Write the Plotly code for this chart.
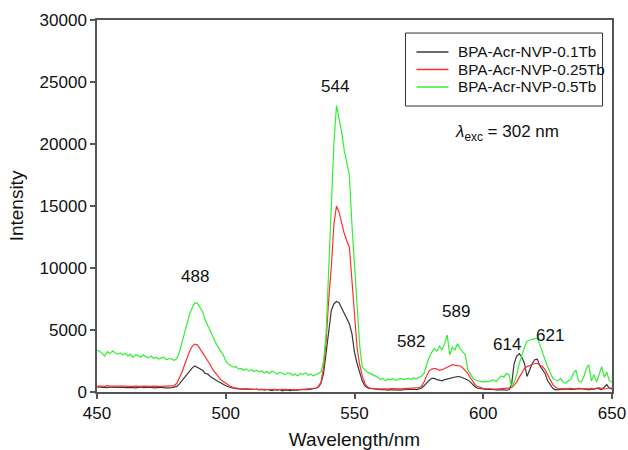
import numpy as np
import plotly.graph_objects as go

# Emission wavelength grid, 1 nm steps
wavelength = list(range(450, 651))

# BPA-Acr-NVP-0.1Tb
tb_01 = [
    420, 400, 380, 420, 350, 400, 380, 360, 400, 370,
    390, 350, 380, 400, 360, 340, 380, 400, 350, 380,
    360, 390, 340, 370, 350, 380, 330, 360, 340, 350,
    380, 450, 650, 900, 1200, 1450, 1700, 1950, 2100, 2000,
    1850, 1750, 1500, 1450, 1250, 1100, 1000, 850, 750, 600,
    500, 420, 350, 300, 280, 250, 260, 230, 250, 220,
    240, 200, 230, 180, 210, 150, 200, 170, 120, 180,
    140, 180, 100, 160, 130, 110, 170, 140, 150, 180,
    160, 200, 180, 220, 250, 300, 400, 700, 1500, 3200,
    5000, 6600, 7100, 7300, 7200, 6800, 6400, 6000, 5500, 4700,
    3200, 2300, 1500, 900, 500, 350, 280, 250, 220, 200,
    180, 200, 170, 150, 180, 160, 140, 170, 150, 180,
    200, 170, 180, 220, 200, 250, 300, 500, 750, 950,
    1100, 1100, 1000, 950, 900, 1000, 1050, 1100, 1150, 1200,
    1250, 1230, 1150, 1050, 970, 800, 550, 380, 300, 250,
    230, 200, 220, 180, 200, 170, 190, 160, 180, 150,
    180, 600, 2300, 2900, 3100, 2800, 2300, 1250, 1800, 2300,
    2600, 2650, 2100, 1800, 1500, 900, 550, 300, 180, 200,
    220, 180, 200, 250, 200, 180, 220, 300, 250, 200,
    200, 180, 250, 220, 300, 250, 200, 400, 600, 300,
    250,
]

# BPA-Acr-NVP-0.25Tb
tb_025 = [
    480, 500, 470, 460, 510, 470, 480, 450, 470, 490,
    460, 470, 450, 480, 460, 470, 440, 460, 470, 450,
    460, 450, 470, 440, 460, 450, 470, 450, 460, 480,
    520, 700, 1100, 1600, 2200, 2800, 3300, 3700, 3850, 3800,
    3500, 3200, 2900, 2500, 2200, 1800, 1500, 1250, 1000, 850,
    700, 550, 430, 350, 300, 270, 250, 230, 240, 220,
    230, 210, 220, 200, 220, 210, 200, 220, 190, 210,
    200, 220, 190, 210, 200, 190, 210, 200, 220, 210,
    220, 230, 240, 250, 280, 320, 450, 800, 2000, 4200,
    7500, 10100, 13500, 15000, 14500, 13500, 12800, 12200, 11700, 9000,
    6200, 3600, 2200, 1300, 700, 420, 320, 280, 260, 250,
    260, 280, 250, 260, 270, 250, 280, 260, 250, 270,
    280, 260, 300, 280, 320, 350, 450, 800, 1300, 1700,
    1850, 1900, 1850, 1750, 1800, 1900, 2050, 2150, 2200, 2150,
    2100, 2100, 1950, 1700, 1500, 1150, 800, 550, 430, 350,
    300, 280, 250, 260, 240, 230, 250, 230, 240, 250,
    270, 350, 550, 800, 1200, 1600, 1900, 2050, 2150, 2250,
    2300, 2300, 2200, 2050, 1800, 1400, 970, 600, 400, 280,
    250, 270, 230, 260, 300, 250, 280, 230, 260, 300,
    280, 250, 300, 260, 280, 350, 300, 250, 280, 350,
    300,
]

# BPA-Acr-NVP-0.5Tb
tb_05 = [
    3350, 3300, 3100, 2900, 3250, 3100, 3300, 3200, 3050, 3150,
    3000, 3100, 2900, 3050, 2800, 3000, 2950, 2800, 3000, 2850,
    2750, 2900, 2700, 2800, 2650, 2750, 2800, 2600, 2700, 2650,
    2550, 2700, 3200, 4000, 4800, 5600, 6300, 6800, 7200, 7150,
    6800, 6500, 5800, 5400, 5000, 4500, 4000, 3600, 3300, 3000,
    2500, 2250, 2100, 2000, 2050, 1850, 1900, 1750, 1850, 1700,
    1800, 1650, 1750, 1600, 1700, 1550, 1650, 1500, 1700, 1550,
    1450, 1600, 1500, 1400, 1550, 1500, 1350, 1450, 1300, 1500,
    1400, 1550, 1350, 1450, 1300, 1400, 1500, 1600, 2500, 4800,
    10000, 15700, 20000, 23100, 22000, 21000, 19500, 18500, 17500, 13500,
    10100, 6500, 3800, 2000, 1800, 1600, 1500, 1400, 1300, 1200,
    1000, 1100, 900, 1050, 1000, 1100, 950, 1050, 1100, 1000,
    1050, 1100, 1000, 1150, 1050, 1200, 1250, 1500, 2200, 2800,
    3200, 3500, 3300, 3700, 3400, 3900, 4600, 3000, 3600, 3400,
    3900, 3500, 3250, 3000, 1800, 1400, 1100, 970, 900, 850,
    800, 850, 830, 900, 1000, 850, 1100, 1300, 1200, 1500,
    1400, 430, 800, 1400, 2300, 3000, 3600, 4100, 4200, 4250,
    4300, 4330, 3800, 3120, 2600, 2040, 1500, 1100, 970, 900,
    1100, 800, 700, 900, 1000, 1500, 1770, 900, 800, 1200,
    1900, 2180, 900, 1400, 800, 1370, 2040, 1200, 1600, 900,
    800,
]

series_names = ["BPA-Acr-NVP-0.1Tb", "BPA-Acr-NVP-0.25Tb", "BPA-Acr-NVP-0.5Tb"]
series_colors = ["#383838", "#ff3030", "#30f030"]

# Peak position labels (wavelength, intensity at which the label sits)
peak_labels = ["488", "544", "582", "589", "614", "621"]
peak_label_x = [488, 542.6, 572, 589.6, 609.4, 626.1]
peak_label_y = [9350, 24600, 4110, 6530, 3870, 4520]

x_ticks = [450, 500, 550, 600, 650]
y_ticks = [0, 5000, 10000, 15000, 20000, 25000, 30000]

FONT = "Liberation Sans, Arial, sans-serif"
AXIS_COLOR = "#555555"
TEXT_COLOR = "#111111"

fig = go.Figure()
for name, color, values in zip(series_names, series_colors, [tb_01, tb_025, tb_05]):
    fig.add_trace(go.Scatter(
        x=wavelength, y=values, mode="lines", name=name,
        line=dict(color=color, width=1.2), showlegend=False,
    ))

for text, px, py in zip(peak_labels, peak_label_x, peak_label_y):
    fig.add_annotation(x=px, y=py, xref="x", yref="y", text=text,
                       showarrow=False, font=dict(size=17, color=TEXT_COLOR, family=FONT))

fig.add_annotation(
    x=0.691, y=0.695, xref="paper", yref="paper", xanchor="left", yanchor="middle",
    text="<i>λ</i><sub>exc</sub> = 302 nm", showarrow=False,
    font=dict(size=17, color=TEXT_COLOR, family=FONT),
)

# Compact boxed legend drawn in paper coordinates
legend_box = dict(x0=0.599, x1=0.9816, y0=0.7688, y1=0.965)
legend_rows_y = [0.914, 0.867, 0.820]
fig.add_shape(type="rect", xref="paper", yref="paper", **legend_box,
              line=dict(color="#333333", width=1), fillcolor="white", layer="above")
for name, color, ry in zip(series_names, series_colors, legend_rows_y):
    fig.add_shape(type="line", xref="paper", yref="paper",
                  x0=0.6204, x1=0.6825, y0=ry, y1=ry,
                  line=dict(color=color, width=1.5), layer="above")
    fig.add_annotation(x=0.698, y=ry, xref="paper", yref="paper",
                       xanchor="left", yanchor="middle", text=name, showarrow=False,
                       font=dict(size=15.3, color=TEXT_COLOR, family=FONT))

axis_common = dict(
    showline=True, linecolor=AXIS_COLOR, linewidth=1.5, mirror=True,
    ticks="outside", ticklen=5, tickwidth=1.5, tickcolor=AXIS_COLOR,
    showgrid=False, zeroline=False,
    tickfont=dict(size=17, color=TEXT_COLOR, family=FONT),
    automargin=False,
)

fig.update_layout(
    width=628, height=450,
    margin=dict(l=97, r=16, t=20, b=58, pad=0, autoexpand=False),
    paper_bgcolor="white", plot_bgcolor="white",
    font=dict(family=FONT, color=TEXT_COLOR),
    xaxis=dict(range=[450, 650], tickvals=x_ticks, tickformat="d",
               title=dict(text="Wavelength/nm", font=dict(size=19, family=FONT), standoff=12),
               **axis_common),
    yaxis=dict(range=[0, 30000], tickvals=y_ticks, tickformat="d",
               title=dict(text="Intensity", font=dict(size=19, family=FONT), standoff=11),
               **axis_common),
    showlegend=False,
)

fig.write_html("out.html")
